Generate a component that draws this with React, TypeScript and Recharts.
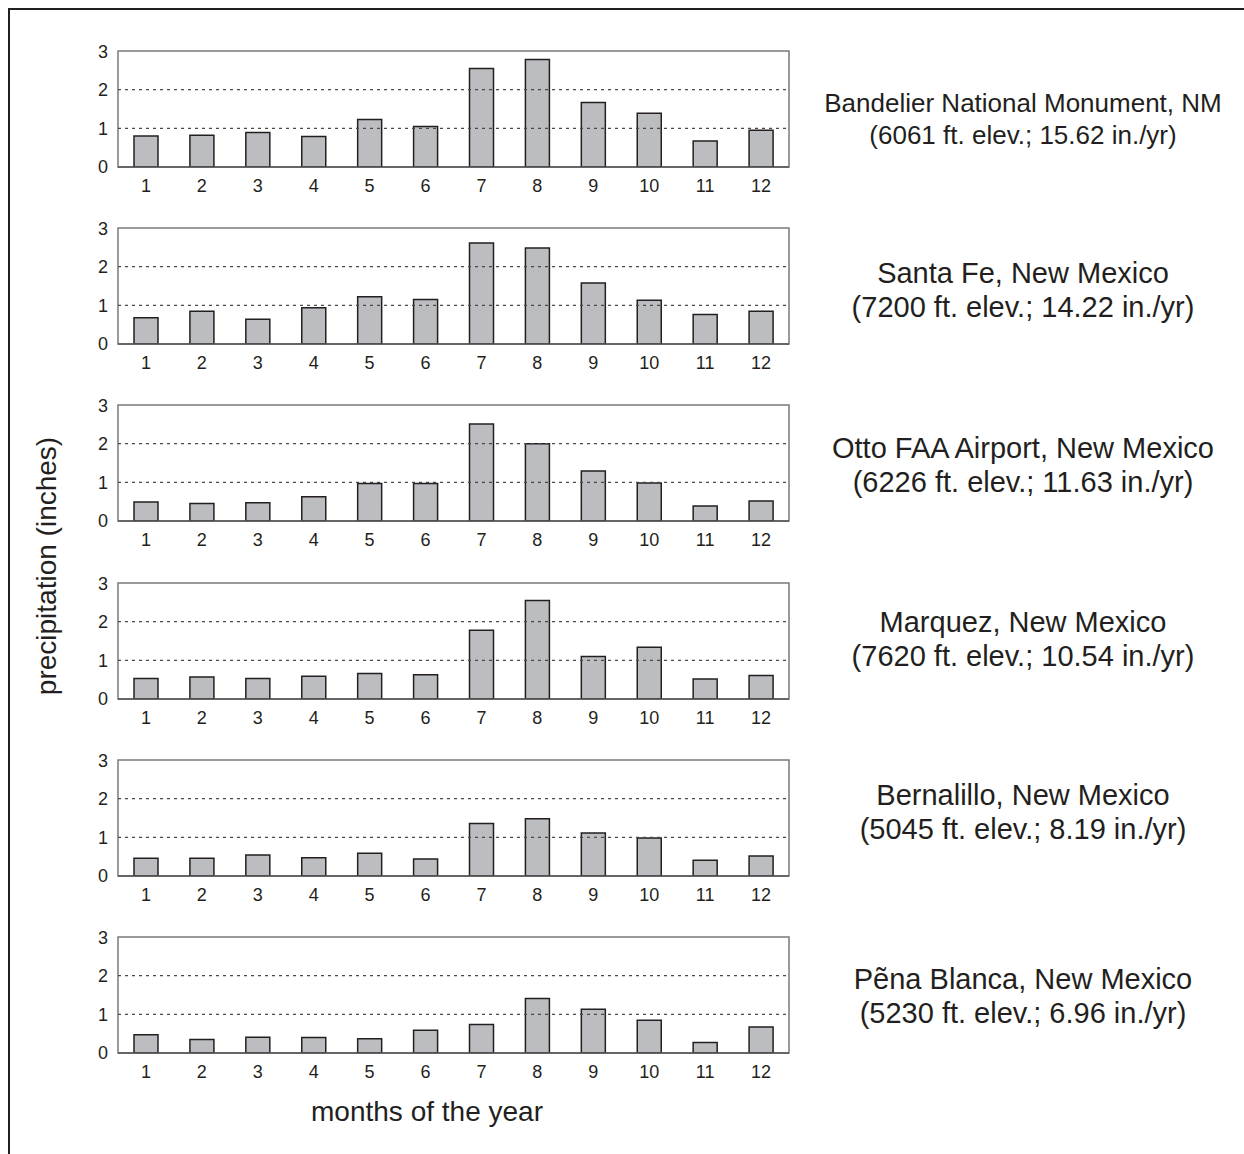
import React from 'react';
import { BarChart, Bar, XAxis, YAxis, ReferenceLine, ReferenceArea } from 'recharts';

// Mean monthly precipitation (inches), January through December
const months = [1, 2, 3, 4, 5, 6, 7, 8, 9, 10, 11, 12];
const bandelier = [0.8, 0.82, 0.89, 0.79, 1.23, 1.05, 2.55, 2.78, 1.67, 1.39, 0.67, 0.95];
const santaFe = [0.68, 0.85, 0.64, 0.94, 1.22, 1.15, 2.61, 2.48, 1.58, 1.13, 0.76, 0.85];
const ottoAirport = [0.49, 0.45, 0.47, 0.63, 0.97, 0.97, 2.51, 2.0, 1.29, 0.98, 0.39, 0.52];
const marquez = [0.53, 0.57, 0.53, 0.59, 0.66, 0.63, 1.78, 2.55, 1.1, 1.34, 0.52, 0.61];
const bernalillo = [0.46, 0.46, 0.54, 0.47, 0.59, 0.44, 1.36, 1.48, 1.11, 0.98, 0.41, 0.52];
const penaBlanca = [0.47, 0.35, 0.41, 0.4, 0.37, 0.59, 0.74, 1.41, 1.13, 0.85, 0.27, 0.67];

const yTicks = [0, 1, 2, 3];
const gridValues = [1, 2];

const stationNames = [
  'Bandelier National Monument, NM',
  'Santa Fe, New Mexico',
  'Otto FAA Airport, New Mexico',
  'Marquez, New Mexico',
  'Bernalillo, New Mexico',
  'P\u1EBDna Blanca, New Mexico',
];
const stationDetails = [
  '(6061 ft. elev.; 15.62 in./yr)',
  '(7200 ft. elev.; 14.22 in./yr)',
  '(6226 ft. elev.; 11.63 in./yr)',
  '(7620 ft. elev.; 10.54 in./yr)',
  '(5045 ft. elev.; 8.19 in./yr)',
  '(5230 ft. elev.; 6.96 in./yr)',
];
const stationSeries = [bandelier, santaFe, ottoAirport, marquez, bernalillo, penaBlanca];

const FONT = '"Liberation Sans", Arial, Helvetica, sans-serif';
const INK = '#231f20';

// layout of the stacked panels
const PANEL_TOPS = [51, 228, 405, 583, 760, 937];
const TITLE_TOPS = [87, 256, 431, 605, 778, 962];
const TITLE_SIZES = [26, 29, 29, 29, 29, 29];
const PLOT_LEFT = 118;
const PLOT_RIGHT = 789;
const PLOT_HEIGHT = 116;
const CHART_WIDTH = 800;
const TOP_PAD = 10;
const XAXIS_HEIGHT = 30;

function Panel({ values, top }: { values: number[]; top: number }) {
  const rows = months.map((m, i) => ({ month: m, value: values[i] }));
  return (
    <div style={{ position: 'absolute', left: 0, top: top - TOP_PAD }}>
      <BarChart
        width={CHART_WIDTH}
        height={TOP_PAD + PLOT_HEIGHT + XAXIS_HEIGHT}
        data={rows}
        margin={{ top: TOP_PAD, right: CHART_WIDTH - PLOT_RIGHT, bottom: 0, left: 0 }}
      >
        <XAxis
          dataKey="month"
          type="category"
          interval={0}
          height={XAXIS_HEIGHT}
          tickLine={false}
          axisLine={false}
          tickSize={0}
          tickMargin={12}
          tick={{ fill: INK, fontSize: 18, fontFamily: FONT }}
        />
        <YAxis
          type="number"
          domain={[0, 3]}
          ticks={yTicks}
          width={PLOT_LEFT}
          tickLine={false}
          axisLine={false}
          tickSize={0}
          tickMargin={10}
          allowDataOverflow
          tick={{ fill: INK, fontSize: 18, fontFamily: FONT }}
        />
        {gridValues.map((v) => (
          <ReferenceLine key={v} y={v} stroke="#4a4a4a" strokeWidth={1.3} strokeDasharray="3 4" />
        ))}
        <Bar
          dataKey="value"
          fill="#bcbdc0"
          stroke={INK}
          strokeWidth={1.5}
          barSize={24}
          isAnimationActive={false}
        />
        <ReferenceArea y1={0} y2={3} fill="none" stroke="#7a7a7a" strokeWidth={1.5} />
        <ReferenceLine y={0} stroke="#555" strokeWidth={1.6} />
      </BarChart>
    </div>
  );
}

export default function App() {
  return (
    <div
      style={{
        position: 'absolute',
        left: 0,
        top: 0,
        width: 1244,
        height: 1154,
        background: '#fff',
        overflow: 'hidden',
        fontFamily: FONT,
        color: INK,
      }}
    >
      {/* outer frame */}
      <div
        style={{
          position: 'absolute',
          left: 8,
          top: 8,
          width: 1300,
          height: 1300,
          borderTop: `2px solid ${INK}`,
          borderLeft: `2px solid ${INK}`,
        }}
      />
      {stationSeries.map((vals, i) => (
        <Panel key={i} values={vals} top={PANEL_TOPS[i]} />
      ))}
      {stationNames.map((name, i) => (
        <div
          key={name}
          style={{
            position: 'absolute',
            left: 823,
            width: 400,
            top: TITLE_TOPS[i],
            textAlign: 'center',
            fontSize: TITLE_SIZES[i],
            lineHeight: `${TITLE_SIZES[i] === 26 ? 32 : 34}px`,
            whiteSpace: 'nowrap',
          }}
        >
          <div>{name}</div>
          <div>{stationDetails[i]}</div>
        </div>
      ))}
      <div
        style={{
          position: 'absolute',
          left: 47,
          top: 566,
          transform: 'translate(-50%, -50%) rotate(-90deg)',
          fontSize: 28,
          whiteSpace: 'nowrap',
        }}
      >
        precipitation (inches)
      </div>
      <div
        style={{
          position: 'absolute',
          left: 427,
          top: 1112,
          transform: 'translate(-50%, -50%)',
          fontSize: 28,
          whiteSpace: 'nowrap',
        }}
      >
        months of the year
      </div>
    </div>
  );
}
